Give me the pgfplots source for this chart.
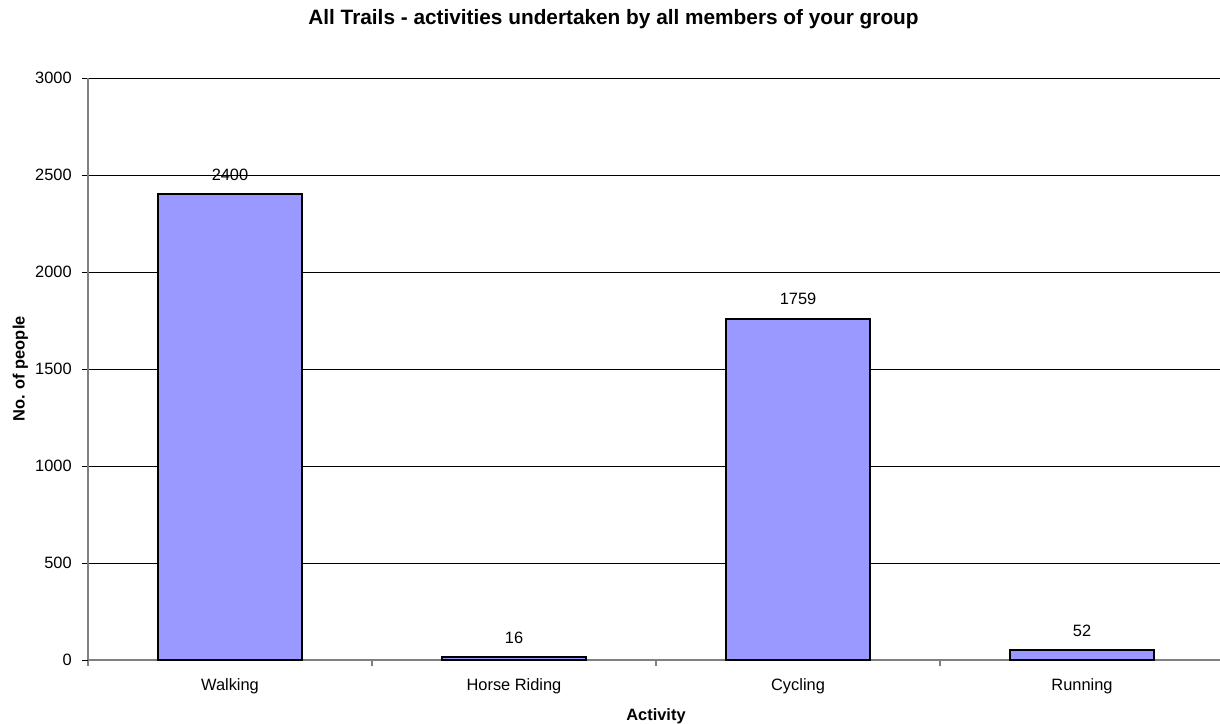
\documentclass[border=0pt]{standalone}
\usepackage{fontspec}
\setmainfont{Liberation Sans}
\usepackage{pgfplots}
\pgfplotsset{compat=1.18}
\definecolor{barblue}{HTML}{9999FF}
\definecolor{axisgray}{HTML}{808080}
\newcommand{\tickfont}{\fontsize{8.2}{9.8}\selectfont}
\begin{document}
\begin{tikzpicture}
\begin{axis}[
  scale only axis,
  width=568pt, height=291pt,
  xmin=-0.5, xmax=3.5,
  ymin=0, ymax=3000,
  axis lines*=left,
  axis line style={axisgray, line width=0.8pt},
  tick align=outside,
  major tick length=2.8pt,
  tick style={black, line width=0.5pt},
  ytick={0,500,...,3000},
  ymajorgrids,
  grid style={black, line width=0.4pt},
  xtick={-0.5,0.5,1.5,2.5,3.5},
  xticklabels={},
  x tick style={axisgray, line width=0.8pt},
  extra x ticks={0,1,2,3},
  extra x tick labels={Walking,Horse Riding,Cycling,Running},
  extra x tick style={major tick length=0pt, grid=none,
    tick label style={yshift=-6pt}},
  /pgf/number format/assume math mode=true,
  /pgf/number format/1000 sep={},
  ticklabel style={font=\tickfont},
  yticklabel style={xshift=-1.8pt},
  xlabel={\textbf{Activity}},
  ylabel={\textbf{No. of people}},
  label style={font=\tickfont},
  xlabel style={at={(axis description cs:0.5,-0.0975)}, anchor=center},
  ylabel style={at={(axis description cs:-0.0595,0.5)}, anchor=center},
  ybar,
  bar width=0.504,
  nodes near coords,
  nodes near coords style={font=\tickfont, yshift=3pt},
  every node near coord/.append style={/pgf/number format/assume math mode=true},
]
\addplot[fill=barblue, draw=black, line width=1pt]
  coordinates {(0,2400) (1,16) (2,1759) (3,52)};
\coordinate (ll) at (rel axis cs:0,0);
\coordinate (ur) at (rel axis cs:1,1);
\end{axis}
\node[font=\fontsize{10.4}{12}\selectfont\bfseries, anchor=center]
  at ([shift={(262.75pt,320.5pt)}]ll)
  {All Trails - activities undertaken by all members of your group};
\pgfresetboundingbox
\path[use as bounding box] ([shift={(-44pt,-31.5pt)}]ll) rectangle ([shift={(-2pt,39pt)}]ur);
\end{tikzpicture}
\end{document}
